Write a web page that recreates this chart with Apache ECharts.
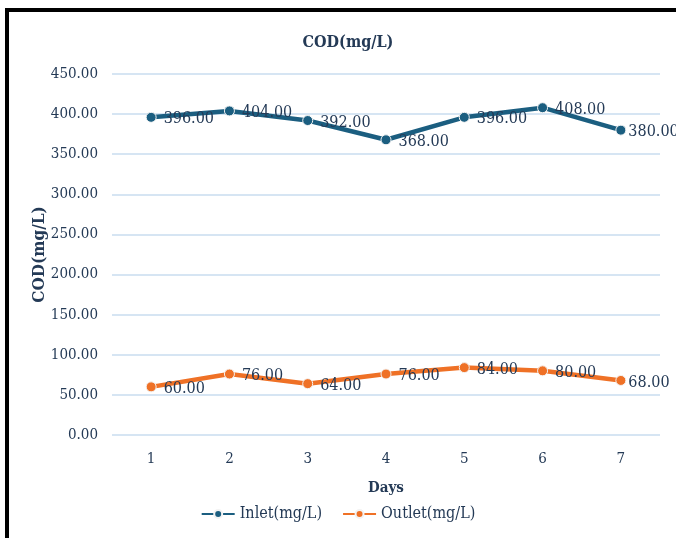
<!DOCTYPE html>
<html><head><meta charset="utf-8">
<script src="https://cdn.jsdelivr.net/npm/echarts@6/dist/echarts.min.js"></script>
<style>html,body{margin:0;padding:0;background:#fff;}#wrap{position:absolute;left:5px;top:8px;width:680px;height:540px;border-left:4px solid #000;border-top:4px solid #000;box-sizing:border-box;}#c{position:absolute;left:0;top:0;width:676px;height:538px;}</style>
</head><body>
<div id="wrap"></div>
<div id="c"></div>
<script>
const days = ['1','2','3','4','5','6','7'];
const inlet = [396,404,392,368,396,408,380];
const outlet = [60,76,64,76,84,80,68];
const font = 'DejaVu Serif Condensed, DejaVu Serif, serif';
const txt = '#243a56';
const chart = echarts.init(document.getElementById('c'));
function lineSeries(name, data, color){
  const items = data.map((v,i)=> i===data.length-1 ? {value:v, label:{distance:2}} : v);
  return {name, type:'line', data:items, symbol:'circle', symbolSize:10,
    lineStyle:{color, width:4.5}, itemStyle:{color, borderColor:'#f3f3f3', borderWidth:1},
    label:{show:true, position:'right', distance:7, offset:[0,2], color:txt, fontFamily:font, fontSize:16,
      formatter:p=>Number(p.value).toFixed(2)}};
}
chart.setOption({
  animation:false,
  title:{text:'COD(mg/L)', left:343, top:30, textAlign:'center', textStyle:{fontFamily:font, fontSize:16, fontWeight:'bold', color:txt}},
  grid:{left:112, right:16, top:74, bottom:103},
  legend:{bottom:11, left:'center', itemGap:20, itemWidth:33, itemHeight:10, textStyle:{fontFamily:font, fontSize:16, color:txt}, data:['Inlet(mg/L)','Outlet(mg/L)']},
  xAxis:{type:'category', data:days, boundaryGap:true, name:'Days', nameLocation:'middle', nameGap:46, nameMoveOverlap:false,
    nameTextStyle:{fontFamily:font, fontSize:15, fontWeight:'bold', color:txt},
    axisLine:{show:false}, axisTick:{show:false}, axisLabel:{fontFamily:font, fontSize:15, color:txt, margin:17}},
  yAxis:{type:'value', min:0, max:450, interval:50, name:'COD(mg/L)', nameLocation:'middle', nameGap:64, nameMoveOverlap:false,
    nameTextStyle:{fontFamily:font, fontSize:17, fontWeight:'bold', color:txt},
    axisLabel:{fontFamily:font, fontSize:15, color:txt, margin:14, formatter:v=>v.toFixed(2)},
    splitLine:{lineStyle:{color:'#c9dcef', width:1.5}}},
  series:[lineSeries('Inlet(mg/L)', inlet, '#1b5e80'), lineSeries('Outlet(mg/L)', outlet, '#ef7126')]
});
</script>
</body></html>
